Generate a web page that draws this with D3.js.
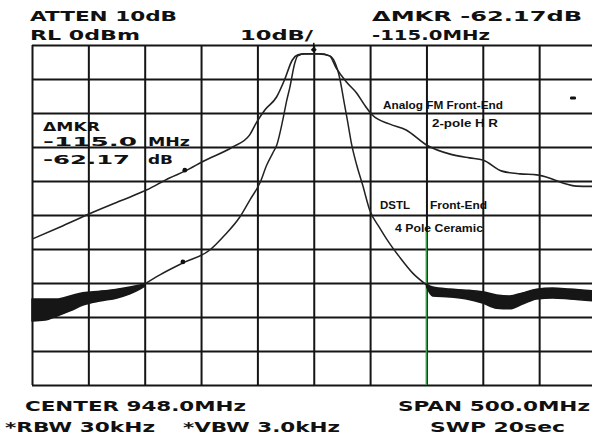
<!DOCTYPE html>
<html><head><meta charset="utf-8">
<script src="https://cdn.jsdelivr.net/npm/d3@7"></script>
<style>body{margin:0;background:#fff;overflow:hidden}</style>
</head><body><svg id="c" width="592" height="435"></svg>
<script>
// ---- instrument settings ----
const centerMHz = 948, spanMHz = 500, refLevelDbm = 0, dbPerDiv = 10, divisions = 10;

// ---- trace 1: Analog FM front-end, 2-pole HR (wide) ----
const analogFreq = [698, 723, 748.5, 776, 800, 820, 833.6, 850.5, 876, 891, 897.5, 904.6, 915, 922, 929, 934, 940, 953, 962, 968, 977, 986, 993, 1000, 1015, 1030, 1048, 1069, 1086, 1098, 1115, 1131, 1146, 1157, 1169, 1181, 1198];
const analogDb = [-57.1, -53.5, -49.7, -45.9, -42.6, -39.1, -37.1, -34.1, -30.0, -26.5, -22.6, -19.1, -15.3, -10.3, -4.4, -2.9, -2.6, -2.6, -3.2, -6.8, -10.9, -14.1, -17.6, -20.6, -23.2, -25.0, -29.4, -32.1, -33.2, -33.8, -37.1, -37.9, -38.2, -39.1, -40.6, -41.5, -41.6];

// ---- trace 2: DSTL front-end, 4-pole ceramic (narrow) ----
const dstlFreq = [796.4, 811.5, 831.9, 855.8, 869.1, 882.4, 891.3, 900.2, 906.3, 911.6, 915.2, 920.5, 924.1, 926.7, 931.2, 933.8, 940, 953.3, 962.2, 966.6, 971, 974.6, 978.1, 981.7, 986.1, 991.4, 997.6, 1006.5, 1012.7, 1024.2, 1035.8, 1048.2];
const dstlDb = [-70.6, -67.6, -64.1, -60.3, -55.9, -50.6, -45.6, -40.6, -35.3, -31.8, -29.4, -22.1, -16.2, -12.6, -5.3, -3.2, -2.6, -2.6, -3.2, -5.0, -9.7, -16.2, -22.6, -29.4, -35.3, -41.2, -48.5, -53.8, -57.1, -62.4, -67.1, -70.6];

// ---- noise floor envelopes of the DSTL trace ----
const noiseLeftFreq = [698, 709.5, 720.2, 731.7, 743.2, 758.3, 773.4, 784.9, 793.7, 798.2];
const noiseLeftHi = [-74.7, -74.7, -74.7, -73.8, -72.9, -72.4, -71.8, -71.2, -70.6, -70.3];
const noiseLeftLo = [-81.2, -80.9, -79.7, -78.2, -76.5, -75.3, -74.4, -73.2, -71.8, -70.9];
const noiseRightFreq = [1048.2, 1053.5, 1068.6, 1083.6, 1097.8, 1110.2, 1121.7, 1133.3, 1145.7, 1159.9, 1175, 1198];
const noiseRightHi = [-70.3, -71.2, -71.8, -72.1, -72.6, -73.5, -73.8, -72.9, -71.8, -71.5, -71.8, -72.4];
const noiseRightLo = [-71.2, -73.8, -74.1, -74.7, -75.9, -77.4, -77.6, -76.2, -74.7, -74.4, -74.7, -75.3];

// ---- markers ----
const mainMarkerFreq = 948, mainMarkerDb = -2.6;
const deltaMarkerFreq = [833.6, 831.9];
const deltaMarkerDb = [-37.1, -64.1];
const greenLineFreq = 1048, greenLineTopDb = -55;

// ---- texts ----
const headerLabels = ["ATTEN 10dB", "ΔMKR -62.17dB", "RL 0dBm", "10dB/", "-115.0MHz"];
const footerLabels = ["CENTER 948.0MHz", "SPAN 500.0MHz", "*RBW 30kHz", "*VBW 3.0kHz", "SWP 20sec"];
const readoutLabels = ["ΔMKR", "-115.0", "MHz", "-62.17", "dB"];
const annotationLabels = ["Analog FM Front-End", "2-pole H R", "DSTL", "Front-End", "4 Pole Ceramic"];

(function () {
const svg = d3.select("#c");
const gL = 32, gR = 595.5, gT = 45, gB = 385;
const x = d3.scaleLinear().domain([centerMHz - spanMHz / 2, centerMHz + spanMHz / 2]).range([gL, gR]);
const y = d3.scaleLinear().domain([refLevelDbm - divisions * dbPerDiv, refLevelDbm]).range([gB, gT]);

svg.append("rect").attr("width", 592).attr("height", 435).attr("fill", "#fff");

// grid via axes
const xTicks = d3.range(0, divisions + 1).map(i => centerMHz - spanMHz / 2 + i * spanMHz / divisions);
const yTicks = d3.range(0, divisions + 1).map(i => refLevelDbm - i * dbPerDiv);
const gx = svg.append("g").attr("transform", `translate(0,${gB})`)
  .call(d3.axisBottom(x).tickValues(xTicks).tickSize(-(gB - gT)).tickFormat(""));
const gy = svg.append("g").attr("transform", `translate(${gL},0)`)
  .call(d3.axisLeft(y).tickValues(yTicks).tickSize(-(gR - gL)).tickFormat(""));
[gx, gy].forEach(g => {
  g.select(".domain").remove();
  g.selectAll(".tick line").attr("stroke", "#151515").attr("stroke-width", 2);
});

// green line
svg.append("line").attr("x1", x(greenLineFreq)).attr("x2", x(greenLineFreq))
  .attr("y1", y(greenLineTopDb)).attr("y2", gB).attr("stroke", "#3b9a47").attr("stroke-width", 1.6);

const line = d3.line().x(d => x(d[0])).y(d => y(d[1])).curve(d3.curveMonotoneX);
const analog = analogFreq.map((f, i) => [f, analogDb[i]]);
const dstl = dstlFreq.map((f, i) => [f, dstlDb[i]]);
svg.append("path").attr("d", line(analog)).attr("fill", "none").attr("stroke", "#222").attr("stroke-width", 1.6);
svg.append("path").attr("d", line(dstl)).attr("fill", "none").attr("stroke", "#222").attr("stroke-width", 1.5);

const area = d3.area().x(d => x(d[0])).y0(d => y(d[1])).y1(d => y(d[2])).curve(d3.curveMonotoneX);
const nl = noiseLeftFreq.map((f, i) => [f, noiseLeftHi[i], noiseLeftLo[i]]);
const nr = noiseRightFreq.map((f, i) => [f, noiseRightHi[i], noiseRightLo[i]]);
[nl, nr].forEach(d => svg.append("path").attr("d", area(d)).attr("fill", "#161616")
  .attr("stroke", "#161616").attr("stroke-width", 1.5).attr("stroke-linejoin", "round"));

// markers
deltaMarkerFreq.forEach((f, i) => svg.append("circle").attr("cx", x(f)).attr("cy", y(deltaMarkerDb[i]) - 1)
  .attr("r", 2.4).attr("fill", "#111"));
const mx = x(mainMarkerFreq), my = y(mainMarkerDb);
svg.append("path").attr("d", `M${mx - 3},${my - 4} L${mx},${my - 1} L${mx + 3},${my - 4} L${mx},${my - 7} Z`).attr("fill", "#111");
svg.append("line").attr("x1", mx).attr("x2", mx).attr("y1", my - 11).attr("y2", my - 3).attr("stroke", "#111").attr("stroke-width", 1.6);
svg.append("rect").attr("x", 570).attr("y", 96.5).attr("width", 6).attr("height", 3).attr("rx", 1.2).attr("fill", "#111");

// text helper
function txt(s, xx, yy, len, size, family, weight) {
  svg.append("text").attr("x", xx).attr("y", yy).text(s)
    .attr("font-family", family).attr("font-size", size).attr("font-weight", weight)
    .attr("fill", "#111").attr("textLength", len).attr("lengthAdjust", "spacingAndGlyphs");
}
const hf = "DejaVu Sans";
txt(headerLabels[0], 30, 21, 147, 13.5, hf, "bold");
txt(headerLabels[1], 372, 21, 210, 13.5, hf, "bold");
txt(headerLabels[2], 30, 40, 110, 13.5, hf, "bold");
txt(headerLabels[3], 240, 40, 73, 13.5, hf, "bold");
txt(headerLabels[4], 372, 40, 118, 13.5, hf, "bold");
txt(footerLabels[0], 25, 411, 221, 13.5, hf, "bold");
txt(footerLabels[1], 398, 411, 192, 13.5, hf, "bold");
txt(footerLabels[2], 5, 432, 150, 13.5, hf, "bold");
txt(footerLabels[3], 183, 432, 157, 13.5, hf, "bold");
txt(footerLabels[4], 430, 432, 135, 13.5, hf, "bold");
txt(readoutLabels[0], 43, 130.5, 57, 11.5, hf, "bold");
txt(readoutLabels[1], 43, 146, 94, 11.5, hf, "bold");
txt(readoutLabels[2], 148, 146, 42, 11.5, hf, "bold");
txt(readoutLabels[3], 43, 164, 87, 11.5, hf, "bold");
txt(readoutLabels[4], 148, 164, 25, 11.5, hf, "bold");
const af = "Liberation Sans";
txt(annotationLabels[0], 383, 108.5, 120, 10, af, "bold");
txt(annotationLabels[1], 432, 126.5, 66, 10, af, "bold");
txt(annotationLabels[2], 380, 208.5, 30, 10, af, "bold");
txt(annotationLabels[3], 430, 208.5, 57, 10, af, "bold");
txt(annotationLabels[4], 395, 231.5, 88, 10, af, "bold");
})();
</script>
</body></html>
